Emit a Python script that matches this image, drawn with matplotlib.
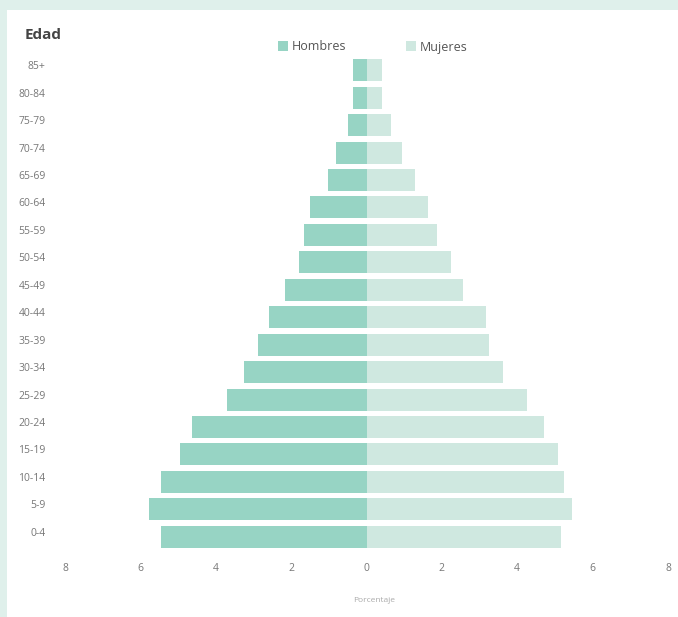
import matplotlib.pyplot as plt
import matplotlib.transforms as mtransforms
from matplotlib.patches import Patch, Rectangle

# grupos de edad (de abajo hacia arriba)
edades = ["0-4", "5-9", "10-14", "15-19", "20-24", "25-29", "30-34", "35-39",
          "40-44", "45-49", "50-54", "55-59", "60-64", "65-69", "70-74",
          "75-79", "80-84", "85+"]
hombres = [5.46, 5.76, 5.46, 4.96, 4.64, 3.71, 3.26, 2.89,
           2.60, 2.15, 1.80, 1.65, 1.49, 1.03, 0.80, 0.50, 0.35, 0.35]
mujeres = [5.15, 5.44, 5.23, 5.07, 4.72, 4.27, 3.63, 3.24,
           3.16, 2.55, 2.23, 1.86, 1.64, 1.30, 0.93, 0.66, 0.42, 0.42]
ticks_x = [-8, -6, -4, -2, 0, 2, 4, 6, 8]

color_h = "#97d4c4"
color_m = "#cfe8e0"
fondo = "#dff0eb"

fig = plt.figure(figsize=(6.78, 6.17), dpi=100)
fig.patch.set_facecolor("white")
# marco verde claro (arriba e izquierda)
fig.patches.append(Rectangle((0, 1 - 10 / 617), 1, 10 / 617, transform=fig.transFigure,
                             facecolor=fondo, edgecolor="none", zorder=-10))
fig.patches.append(Rectangle((0, 0), 7 / 678, 1, transform=fig.transFigure,
                             facecolor=fondo, edgecolor="none", zorder=-10))

ax = fig.add_axes([65 / 678, 1 - 556 / 617, (668 - 65) / 678, (556 - 51) / 617])
ax.set_facecolor("none")

y = list(range(len(edades)))
ax.barh(y, [-v for v in hombres], height=0.8, color=color_h, label="Hombres")
ax.barh(y, mujeres, height=0.8, color=color_m, label="Mujeres")

ax.set_xlim(-8, 8)
ax.set_ylim(-0.7, len(edades) - 0.3)
ax.set_xticks(ticks_x)
ax.set_xticklabels([str(abs(t)) for t in ticks_x])
ax.set_yticks(y)
ax.set_yticklabels(edades)

for s in ax.spines.values():
    s.set_visible(False)
ax.tick_params(axis="both", length=0, labelsize=7.5, labelcolor="#777777")
ax.tick_params(axis="x", pad=5)
ax.tick_params(axis="y", pad=14)
for lbl in ax.get_xticklabels() + ax.get_yticklabels():
    lbl.set_family("Open Sans")

# las etiquetas de edad van un poco por encima del centro de la barra
subir = mtransforms.ScaledTranslation(0, 5 / 100, fig.dpi_scale_trans)
for lbl in ax.get_yticklabels():
    lbl.set_transform(lbl.get_transform() + subir)

fig.text(25 / 678, 1 - 35 / 617, "Edad", fontsize=11, fontweight="bold",
         color="#444444", family="Open Sans", va="center", ha="left")
fig.text(374 / 678, 1 - 600 / 617, "Porcentaje", fontsize=6, color="#aaaaaa",
         family="Open Sans", va="center", ha="center")

handles = [Patch(facecolor=color_h, edgecolor="none", label="Hombres"),
           Patch(facecolor=color_m, edgecolor="none", label="Mujeres")]
leg = fig.legend(handles=handles, loc="center", bbox_to_anchor=(373 / 678, 1 - 47 / 617),
                 ncol=2, frameon=False, handlelength=0.8, handleheight=0.8,
                 handletextpad=0.3, columnspacing=4.8,
                 prop={"family": "Open Sans", "size": 9})
for t in leg.get_texts():
    t.set_color("#555555")

plt.savefig("out.png", dpi=100, facecolor=fig.get_facecolor())
